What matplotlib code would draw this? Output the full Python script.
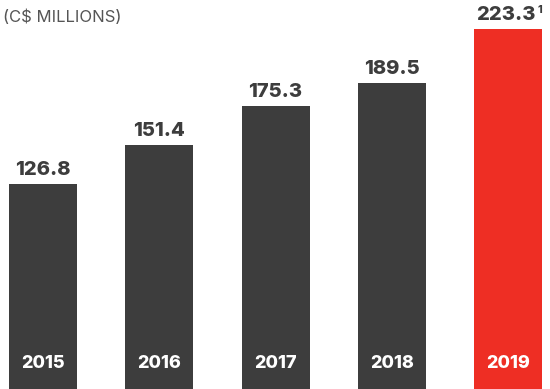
import matplotlib
matplotlib.use("Agg")
import matplotlib.pyplot as plt

# data (C$ millions)
years = ["2015", "2016", "2017", "2018", "2019"]
values = [126.8, 151.4, 175.3, 189.5, 223.3]
footnotes = ["", "", "", "", "1"]

DARK = "#3d3d3d"
RED = "#ee2e24"
colors = [DARK, DARK, DARK, DARK, RED]

plt.rcParams["font.family"] = ["Inter", "DejaVu Sans"]

fig = plt.figure(figsize=(5.5, 3.89), dpi=100)
ax = fig.add_axes([0, 0, 1, 1])
xs = list(range(len(years)))
ax.bar(xs, values, width=0.585, color=colors)
ax.set_xlim(-0.37, 4.36)
ax.set_ylim(0, 241)
ax.axis("off")

for x, v, yr, fn in zip(xs, values, years, footnotes):
    dx = -1.5 if fn else 0
    ax.annotate(f"{v:.1f}", xy=(x, v), xytext=(dx, 3.5), textcoords="offset points",
                ha="center", va="bottom", fontsize=14.5, fontweight="heavy", color=DARK)
    if fn:
        ax.annotate(fn, xy=(x, v), xytext=(23, 10), textcoords="offset points",
                    ha="center", va="bottom", fontsize=7.5, fontweight="heavy", color=DARK)
    ax.annotate(yr, xy=(x, 0), xytext=(0, 18.5), textcoords="offset points",
                ha="center", va="center", fontsize=13, fontweight="heavy", color="white")

fig.text(0.006, 0.955, "(C$ MILLIONS)", ha="left", va="center", fontsize=12, color="#555555")

fig.savefig("out.png", dpi=100)
